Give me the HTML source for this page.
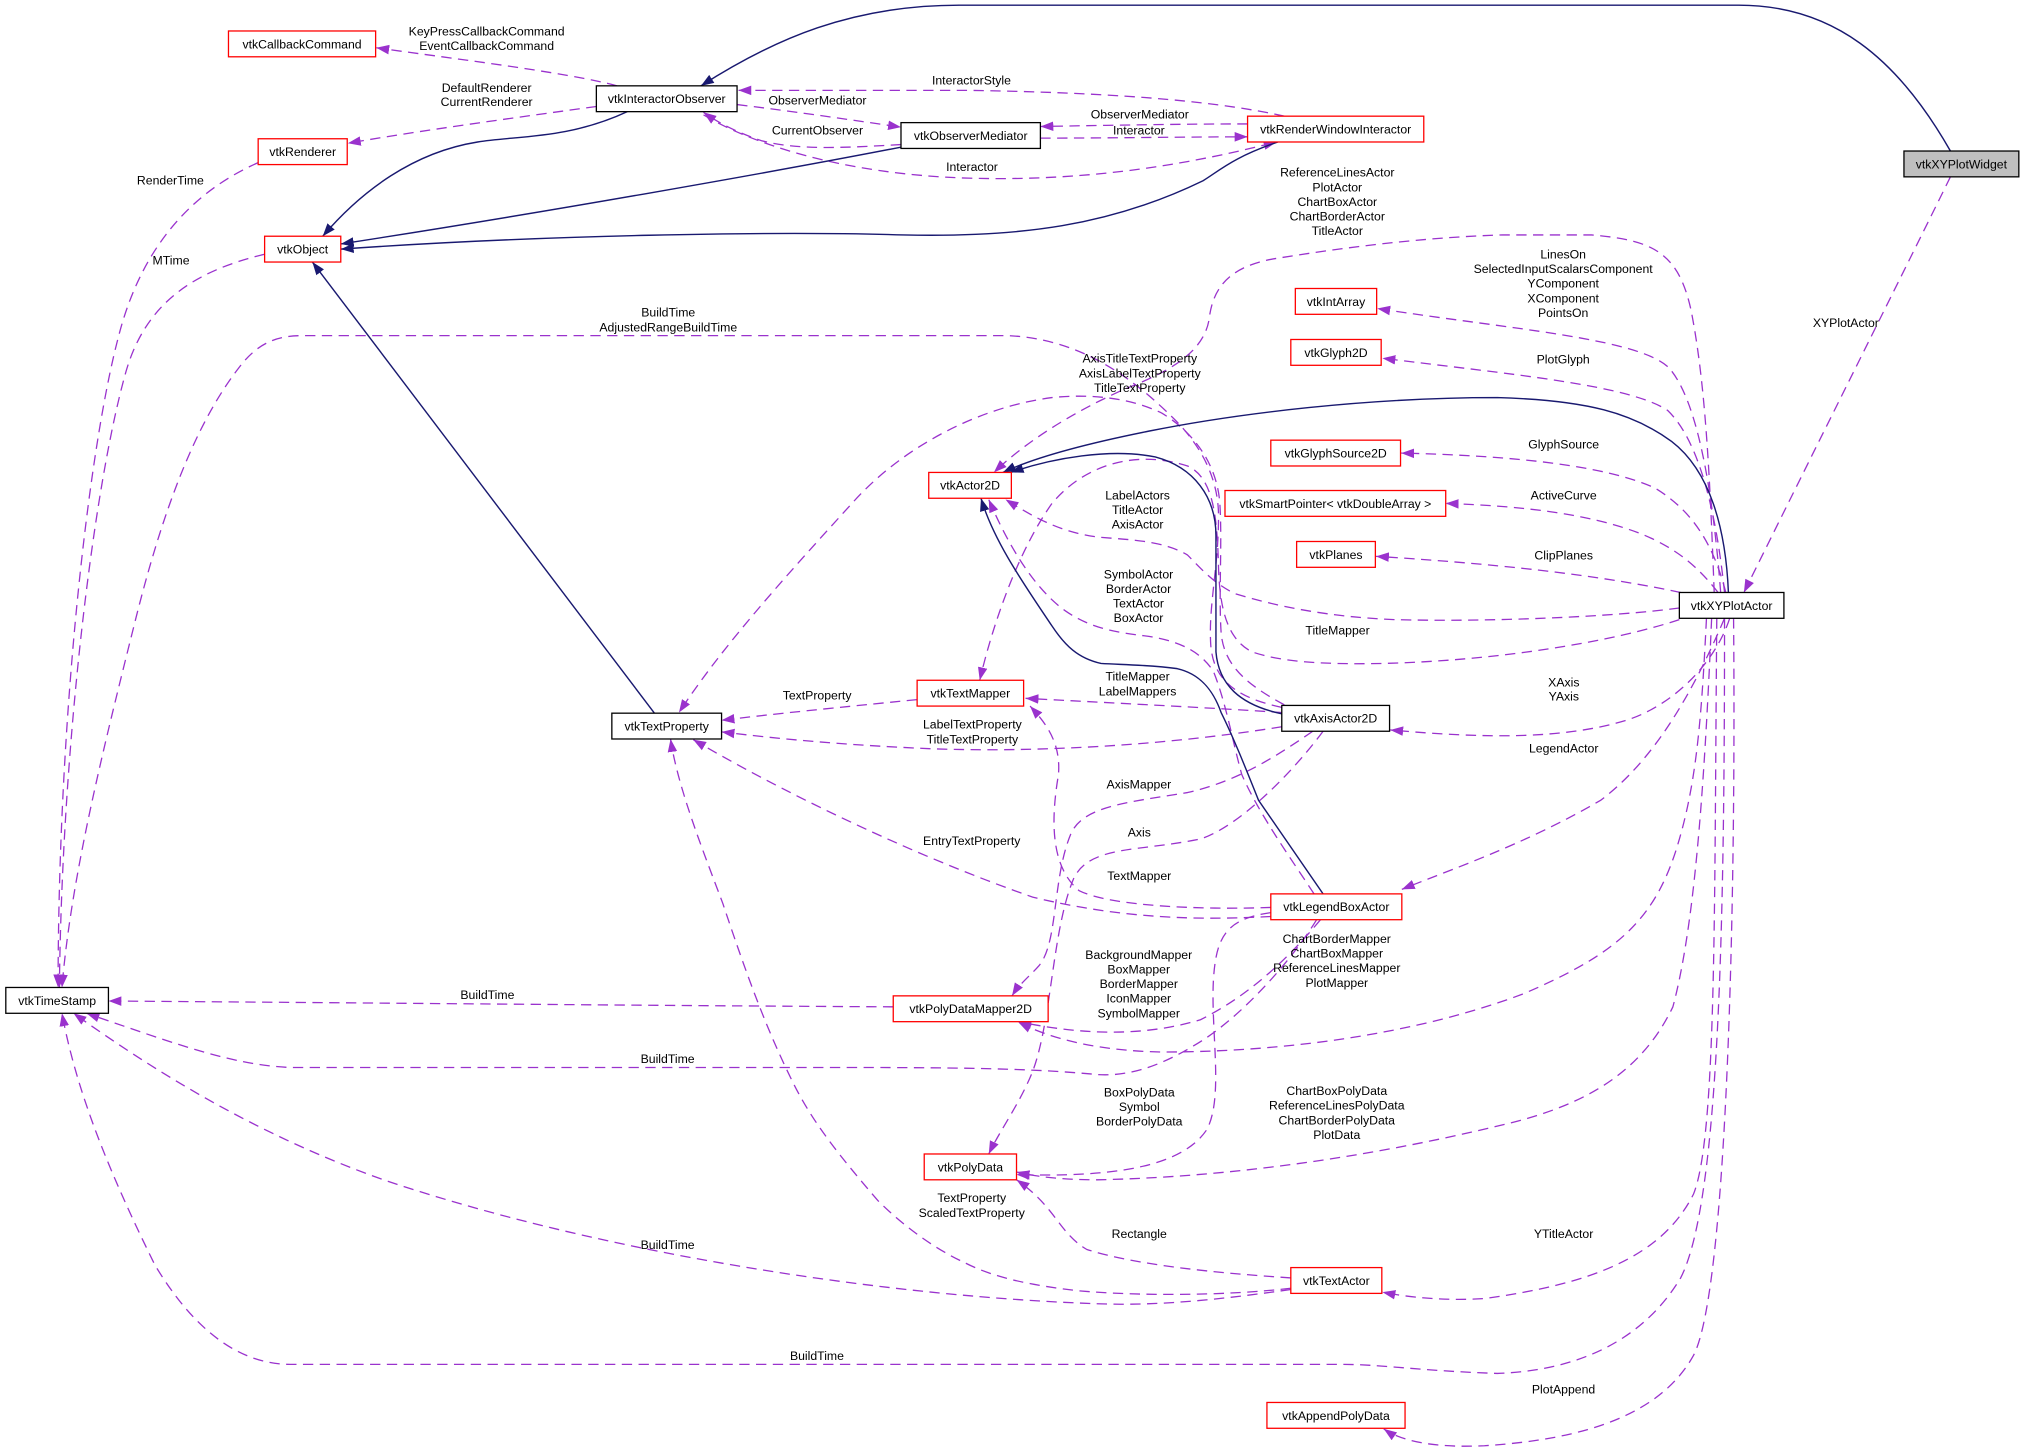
<!DOCTYPE html>
<html><head><meta charset="utf-8"><style>html,body{margin:0;padding:0;background:#fff;}svg{display:block}</style></head>
<body>
<svg xmlns="http://www.w3.org/2000/svg" width="2024" height="1451" viewBox="0 0 1568 1124.1" preserveAspectRatio="none">
<defs>
<marker id="p" markerUnits="userSpaceOnUse" viewBox="0 0 10 8" markerWidth="10" markerHeight="8" refX="10" refY="4" orient="auto"><path d="M0,0.3 L10,4 L0,7.7 z" fill="#9a32cd"/></marker>
<marker id="n" markerUnits="userSpaceOnUse" viewBox="0 0 10 8" markerWidth="10" markerHeight="8" refX="10" refY="4" orient="auto"><path d="M0,0.3 L10,4 L0,7.7 z" fill="#191970"/></marker>
</defs>
<rect x="0" y="0" width="1568" height="1124.1" fill="#fff"/>

<!-- dashed usage edges -->
<g fill="none" stroke="#9a32cd" stroke-width="1" stroke-dasharray="8,5" marker-end="url(#p)">
<path d="M478,66.5 C440,56 340,44 291.5,37"/>
<path d="M462,82.5 C400,91 320,102 269.5,111"/>
<path d="M571,81 C620,87 660,93 698,98.5"/>
<path d="M698,112 C660,114 620,117 590,109 C572,103 556,95 545,87"/>
<path d="M995,90 C950,80 880,72 750,70 L572,70"/>
<path d="M966.5,96 C920,96 860,97 806,98"/>
<path d="M806,107 C860,107 920,106 966.5,106"/>
<path d="M545,89 C580,110 650,135 750,138 C850,141 930,125 989,110"/>
<path d="M200,126 C150,148 110,190 92,260 C68,350 45,560 45,765"/>
<path d="M205,197 C150,210 112,235 97,290 C72,380 48,580 46,765"/>
<path d="M993,548 C955,540 940,525 938,500 C936,470 944,440 944,400 C944,370 930,345 910,325 C870,285 830,262 780,260 L235,260 C215,260 200,265 185,285 C150,330 125,400 105,480 C80,580 55,680 48,765"/>
<path d="M1328,459 C1325,380 1322,300 1310,240 C1300,195 1280,186 1233,182 L1164,182 C1100,184 1040,192 990,200 C950,206 940,225 937,245 C934,275 900,290 870,302 C830,320 795,342 770,366"/>
<path d="M995,546 C965,530 948,515 946,490 C944,460 947,420 945,390 C943,360 925,335 900,320 C875,308 845,305 815,308 C760,315 700,345 660,390 C610,445 560,500 526,552"/>
<path d="M1301,480 C1250,497 1160,512 1070,514 C1020,515 990,512 970,505 C950,495 945,470 944,440 C943,400 940,370 920,361 C880,348 840,360 815,390 C790,425 770,480 759,527"/>
<path d="M1301,471 C1250,478 1150,482 1080,480 C1030,478 990,470 957,460 C940,452 930,440 920,430 C900,418 870,418 850,416 C820,412 800,400 779,387"/>
<path d="M1018,692.5 C1000,665 975,630 962,600 C955,575 950,545 940,520 C930,505 915,497 890,493 C865,490 845,487 825,473 C800,455 780,420 766,387"/>
<path d="M1333,459 C1327,380 1315,310 1293,285 C1270,262 1170,255 1067,239"/>
<path d="M1336,459 C1330,400 1317,342 1292,318 C1262,298 1170,290 1071,277.5"/>
<path d="M1337,459 C1327,420 1310,395 1282,378 C1242,360 1170,353 1085.5,351"/>
<path d="M1331,459 C1316,440 1300,425 1270,413 C1230,398 1180,392 1120,390"/>
<path d="M1302,459 C1250,448 1180,438 1066,431"/>
<path d="M1511,137 C1485,190 1400,360 1351,459"/>
<path d="M1340,479 C1330,510 1300,545 1260,558 C1210,573 1150,572 1077,565.5"/>
<path d="M1336,479 C1310,540 1280,590 1240,620 C1180,655 1120,675 1086,689"/>
<path d="M1322,479 C1318,560 1314,610 1298,660 C1280,715 1250,740 1180,770 C1100,800 1000,815 900,815 C850,814 815,805 789,792"/>
<path d="M1326,479 C1320,620 1312,720 1296,780 C1272,830 1230,855 1170,870 C1060,897 950,912 850,914 C820,914 800,911 787.5,908"/>
<path d="M1330,479 C1328,700 1330,880 1312,925 C1287,975 1230,995 1150,1006 C1120,1008 1090,1005 1071,1001"/>
<path d="M1336,479 C1336,700 1333,930 1302,990 C1272,1040 1220,1062 1160,1064 C1100,1062 1070,1057 1040,1057 L225,1057 C185,1057 150,1030 120,980 C88,915 60,850 48,785"/>
<path d="M1343,479 C1345,700 1338,1000 1312,1050 C1287,1095 1230,1115 1150,1120 C1110,1122 1085,1116 1072,1107"/>
<path d="M993,552 C950,549 870,545 794.5,541"/>
<path d="M993,563 C900,578 800,583 720,580 C650,577 600,572 559,567"/>
<path d="M710.5,542 C650,548 600,553 559,558"/>
<path d="M1017,566.5 C990,585 960,605 920,614 C870,622 840,625 830,645 C815,680 820,730 805,748 C798,756 790,762 784,771.5"/>
<path d="M1025,566.5 C1000,600 960,640 930,650 C880,660 845,655 832,680 C815,720 815,790 800,830 C790,855 775,875 766,894"/>
<path d="M984.5,710 C930,713 870,712 800,695 C700,660 600,610 537,573"/>
<path d="M984.5,703 C930,705 860,702 836,690 C812,670 815,630 820,600 C822,575 810,560 798,547"/>
<path d="M1023,712.5 C1000,740 970,770 930,790 C880,805 830,800 789,791.5"/>
<path d="M984.5,707 C950,712 942,725 940,760 C938,800 948,850 935,875 C915,905 860,912 787.5,910"/>
<path d="M1020,712.5 C1000,745 960,790 925,810 C895,828 870,835 845,832 C800,828 750,827 658,827 L225,827 C180,825 140,810 67,785"/>
<path d="M692,780 C500,779 300,777 84,775.5"/>
<path d="M1000,990 C940,986 880,980 842,968 C820,955 818,935 787.5,914"/>
<path d="M1000,998 C950,1004 880,1004 836,1000 C800,996 770,990 747,978 C725,968 700,950 680,930 C650,895 630,870 615,840 C595,800 580,760 560,700 C545,660 525,610 519.5,572.5"/>
<path d="M1000,999 C950,1006 900,1012 850,1010 C700,1005 480,975 300,915 C200,880 120,830 57,785"/>
</g>

<!-- solid inheritance edges -->
<g fill="none" stroke="#191970" stroke-width="1.1" marker-end="url(#n)">
<path d="M1511,117 C1470,45 1420,4 1347,4 L743,4 C660,4 600,30 543,66.5"/>
<path d="M486,86.5 C440,108 400,105 370,110 C320,118 280,148 250,183"/>
<path d="M698,114 C600,133 420,165 264,189"/>
<path d="M990,110 C955,122 945,132 932,140 C860,175 790,184 700,182 C600,179 420,182 264,193"/>
<path d="M507,552.5 L242,203"/>
<path d="M1339,459 C1337,410 1325,365 1295,342 C1265,320 1230,310 1160,308 C1060,308 960,320 890,334 C840,344 800,355 777,366"/>
<path d="M993,553 C960,546 944,530 942,505 L942,415 C942,385 925,362 895,354 C860,347 815,355 783,366"/>
<path d="M1025,692.5 L975,620 C965,595 955,570 946,552 C940,535 930,522 912,518 C890,515 870,515 853,514 C835,510 825,500 815,485 C795,455 770,420 760,386"/>
</g>

<!-- nodes -->
<g stroke-width="1" fill="#fff">
<rect x="1475" y="117" width="89" height="20" fill="#bfbfbf" stroke="#000"/>
<rect x="177" y="24" width="114" height="20" stroke="#ff0000"/>
<rect x="462" y="66.5" width="109" height="20" stroke="#000"/>
<rect x="200" y="107.5" width="69" height="20" stroke="#ff0000"/>
<rect x="698" y="95" width="108" height="20" stroke="#000"/>
<rect x="966.5" y="90" width="136.5" height="20" stroke="#ff0000"/>
<rect x="205" y="183" width="59" height="20" stroke="#ff0000"/>
<rect x="1003.5" y="223.5" width="63" height="20" stroke="#ff0000"/>
<rect x="1000" y="263" width="70" height="20" stroke="#ff0000"/>
<rect x="984.5" y="341" width="100.5" height="20" stroke="#ff0000"/>
<rect x="949" y="380" width="171" height="20" stroke="#ff0000"/>
<rect x="1004.5" y="419.5" width="61" height="20" stroke="#ff0000"/>
<rect x="719.5" y="366" width="64" height="20" stroke="#ff0000"/>
<rect x="1301" y="459" width="81" height="20" stroke="#000"/>
<rect x="710.5" y="527" width="82.5" height="20" stroke="#ff0000"/>
<rect x="474" y="552.5" width="85" height="20" stroke="#000"/>
<rect x="993" y="546.5" width="83.5" height="20" stroke="#000"/>
<rect x="984.5" y="692.5" width="101.5" height="20" stroke="#ff0000"/>
<rect x="4.5" y="765" width="79.5" height="20" stroke="#000"/>
<rect x="692" y="771.5" width="120" height="20" stroke="#ff0000"/>
<rect x="716" y="894" width="71.5" height="20" stroke="#ff0000"/>
<rect x="1000" y="982" width="70.5" height="20" stroke="#ff0000"/>
<rect x="981.5" y="1086.5" width="107" height="20" stroke="#ff0000"/>
</g>

<g font-family="Liberation Sans, Arial, sans-serif" font-size="9.5" fill="#000" text-anchor="middle">
<text x="1519.5" y="130.4">vtkXYPlotWidget</text>
<text x="234" y="37.4">vtkCallbackCommand</text>
<text x="516.5" y="79.9">vtkInteractorObserver</text>
<text x="234.5" y="120.9">vtkRenderer</text>
<text x="752" y="108.4">vtkObserverMediator</text>
<text x="1034.75" y="103.4">vtkRenderWindowInteractor</text>
<text x="234.5" y="196.4">vtkObject</text>
<text x="1035" y="236.9">vtkIntArray</text>
<text x="1035" y="276.4">vtkGlyph2D</text>
<text x="1034.75" y="354.4">vtkGlyphSource2D</text>
<text x="1034.5" y="393.4">vtkSmartPointer&lt; vtkDoubleArray &gt;</text>
<text x="1035" y="432.9">vtkPlanes</text>
<text x="751.5" y="379.4">vtkActor2D</text>
<text x="1341.5" y="472.4">vtkXYPlotActor</text>
<text x="751.75" y="540.4">vtkTextMapper</text>
<text x="516.5" y="565.9">vtkTextProperty</text>
<text x="1034.75" y="559.9">vtkAxisActor2D</text>
<text x="1035.25" y="705.9">vtkLegendBoxActor</text>
<text x="44.25" y="778.4">vtkTimeStamp</text>
<text x="752" y="784.9">vtkPolyDataMapper2D</text>
<text x="751.75" y="907.4">vtkPolyData</text>
<text x="1035.25" y="995.4">vtkTextActor</text>
<text x="1035" y="1099.9">vtkAppendPolyData</text>
</g>

<g font-family="Liberation Sans, Arial, sans-serif" font-size="9.5" fill="#000" text-anchor="middle">
<text x="377" y="27.4">KeyPressCallbackCommand</text>
<text x="377" y="38.8">EventCallbackCommand</text>
<text x="377" y="71.1">DefaultRenderer</text>
<text x="377" y="82.2">CurrentRenderer</text>
<text x="132" y="142.9">RenderTime</text>
<text x="132.5" y="204.8">MTime</text>
<text x="517.7" y="245.1">BuildTime</text>
<text x="517.7" y="257">AdjustedRangeBuildTime</text>
<text x="752.6" y="65.4">InteractorStyle</text>
<text x="633.3" y="80.9">ObserverMediator</text>
<text x="633.3" y="104.1">CurrentObserver</text>
<text x="883" y="92">ObserverMediator</text>
<text x="882.3" y="104.1">Interactor</text>
<text x="753" y="132.5">Interactor</text>
<text x="1036" y="136.9">ReferenceLinesActor</text>
<text x="1036" y="148.2">PlotActor</text>
<text x="1036" y="159.5">ChartBoxActor</text>
<text x="1036" y="170.8">ChartBorderActor</text>
<text x="1036" y="182.1">TitleActor</text>
<text x="1211" y="200.4">LinesOn</text>
<text x="1211" y="211.6">SelectedInputScalarsComponent</text>
<text x="1211" y="222.9">YComponent</text>
<text x="1211" y="234.2">XComponent</text>
<text x="1211" y="245.4">PointsOn</text>
<text x="1211" y="281.8">PlotGlyph</text>
<text x="883" y="281">AxisTitleTextProperty</text>
<text x="883" y="292.3">AxisLabelTextProperty</text>
<text x="883" y="303.6">TitleTextProperty</text>
<text x="1430" y="253.4">XYPlotActor</text>
<text x="1211.4" y="347.4">GlyphSource</text>
<text x="1211.4" y="386.9">ActiveCurve</text>
<text x="1211.4" y="433.4">ClipPlanes</text>
<text x="881.3" y="386.9">LabelActors</text>
<text x="881.3" y="398.2">TitleActor</text>
<text x="881.3" y="409.4">AxisActor</text>
<text x="882" y="448.1">SymbolActor</text>
<text x="882" y="459.4">BorderActor</text>
<text x="882" y="470.7">TextActor</text>
<text x="882" y="482">BoxActor</text>
<text x="1036.2" y="491.4">TitleMapper</text>
<text x="881.3" y="527.1">TitleMapper</text>
<text x="881.3" y="538.7">LabelMappers</text>
<text x="633" y="541.8">TextProperty</text>
<text x="1211.5" y="531.8">XAxis</text>
<text x="1211.5" y="542.6">YAxis</text>
<text x="753.3" y="564.4">LabelTextProperty</text>
<text x="753.3" y="575.9">TitleTextProperty</text>
<text x="1211.4" y="583.1">LegendActor</text>
<text x="882.3" y="611">AxisMapper</text>
<text x="882.6" y="648">Axis</text>
<text x="752.8" y="654.5">EntryTextProperty</text>
<text x="882.6" y="681.6">TextMapper</text>
<text x="1035.6" y="730.4">ChartBorderMapper</text>
<text x="1035.6" y="741.8">ChartBoxMapper</text>
<text x="1035.6" y="753.2">ReferenceLinesMapper</text>
<text x="1035.6" y="764.6">PlotMapper</text>
<text x="882.2" y="742.9">BackgroundMapper</text>
<text x="882.2" y="754.2">BoxMapper</text>
<text x="882.2" y="765.5">BorderMapper</text>
<text x="882.2" y="776.8">IconMapper</text>
<text x="882.2" y="788.1">SymbolMapper</text>
<text x="377.6" y="773.9">BuildTime</text>
<text x="517.2" y="823.6">BuildTime</text>
<text x="882.6" y="849.4">BoxPolyData</text>
<text x="882.6" y="860.7">Symbol</text>
<text x="882.6" y="872">BorderPolyData</text>
<text x="1035.6" y="848.4">ChartBoxPolyData</text>
<text x="1035.6" y="859.7">ReferenceLinesPolyData</text>
<text x="1035.6" y="871">ChartBorderPolyData</text>
<text x="1035.6" y="882.3">PlotData</text>
<text x="752.8" y="931.1">TextProperty</text>
<text x="752.8" y="942.7">ScaledTextProperty</text>
<text x="882.6" y="959.2">Rectangle</text>
<text x="1211.3" y="959.2">YTitleActor</text>
<text x="517.2" y="967.6">BuildTime</text>
<text x="632.9" y="1053.8">BuildTime</text>
<text x="1211.3" y="1079.5">PlotAppend</text>
</g>
</svg>
</body></html>
